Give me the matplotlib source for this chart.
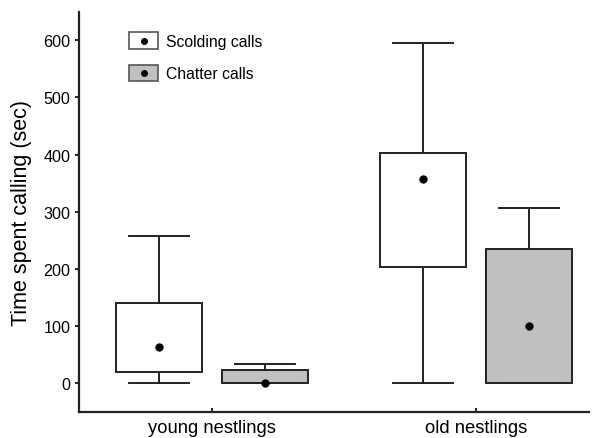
import numpy as np
from matplotlib import pyplot as plt
from matplotlib.patches import Rectangle
from matplotlib.lines import Line2D
from matplotlib.legend_handler import HandlerBase

plt.rcParams['font.family'] = ['Liberation Sans', 'DejaVu Sans']

# values
groups = ['young nestlings', 'old nestlings']
series = ['Scolding calls', 'Chatter calls']
colors = ['white', '#c0c0c0']
whislo = [[1, 0], [0, 0]]        # [group][series]
q1 = [[20, 0], [204, 0]]
q3 = [[140, 23], [403, 235]]
whishi = [[258, 33], [596, 306]]
dots = [[63, 0], [357, 100]]


class BoxDotHandler(HandlerBase):
    # legend key: filled box with a dot in the middle
    def create_artists(self, legend, orig_handle, xdescent, ydescent,
                       width, height, fontsize, trans):
        box = Rectangle((-xdescent, -ydescent), width, height,
                        facecolor=orig_handle.get_facecolor(),
                        edgecolor='#555555', linewidth=1.2, transform=trans)
        dot = Line2D([width / 2 - xdescent], [height / 2 - ydescent],
                     linestyle='none', marker='o', color='black',
                     markersize=4, transform=trans)
        return [box, dot]


fig = plt.figure(figsize=(5.92, 4.39), dpi=100)
ax = fig.add_axes([0.1334, 0.06, 0.862, 0.911])

offset = 0.2
width = 0.326
for s in range(len(series)):
    stats = []
    for g in range(len(groups)):
        stats.append(dict(med=dots[g][s], q1=q1[g][s], q3=q3[g][s],
                          whislo=whislo[g][s], whishi=whishi[g][s],
                          mean=dots[g][s], fliers=[]))
    pos = np.arange(len(groups)) + (s - 0.5) * 2 * offset
    ax.bxp(stats, positions=pos, widths=width, capwidths=0.227,
           patch_artist=True, showmeans=True, manage_ticks=False,
           boxprops=dict(facecolor=colors[s], edgecolor='#222222', linewidth=1.4),
           whiskerprops=dict(color='#222222', linewidth=1.4),
           capprops=dict(color='#222222', linewidth=1.4),
           medianprops=dict(linewidth=0),
           meanprops=dict(marker='o', markerfacecolor='black',
                          markeredgecolor='black', markersize=5))

ax.set_xlim(-0.504, 1.428)
ax.set_ylim(-50, 650)
ax.set_xticks(range(len(groups)))
ax.set_xticklabels(groups, fontsize=13.2)
ax.set_yticks(range(0, 601, 100))
ax.tick_params(axis='y', labelsize=11.6, length=3, width=1.2, direction='out', pad=3)
ax.tick_params(axis='x', length=3, width=1.2, direction='in', pad=5)
ax.set_ylabel('Time spent calling (sec)', fontsize=15.5, labelpad=8)
for side in ['top', 'right']:
    ax.spines[side].set_visible(False)
for side in ['left', 'bottom']:
    ax.spines[side].set_linewidth(1.6)
    ax.spines[side].set_color('#222222')

handles = [Rectangle((0, 0), 1, 1, facecolor=c) for c in colors]
ax.legend(handles, series, handler_map={Rectangle: BoxDotHandler()},
          loc='upper left', bbox_to_anchor=(0.086, 0.964), borderaxespad=0,
          frameon=False, fontsize=11.3, handlelength=1.85, handleheight=1.25,
          labelspacing=1.0, handletextpad=0.5)

fig.savefig('out.png')
